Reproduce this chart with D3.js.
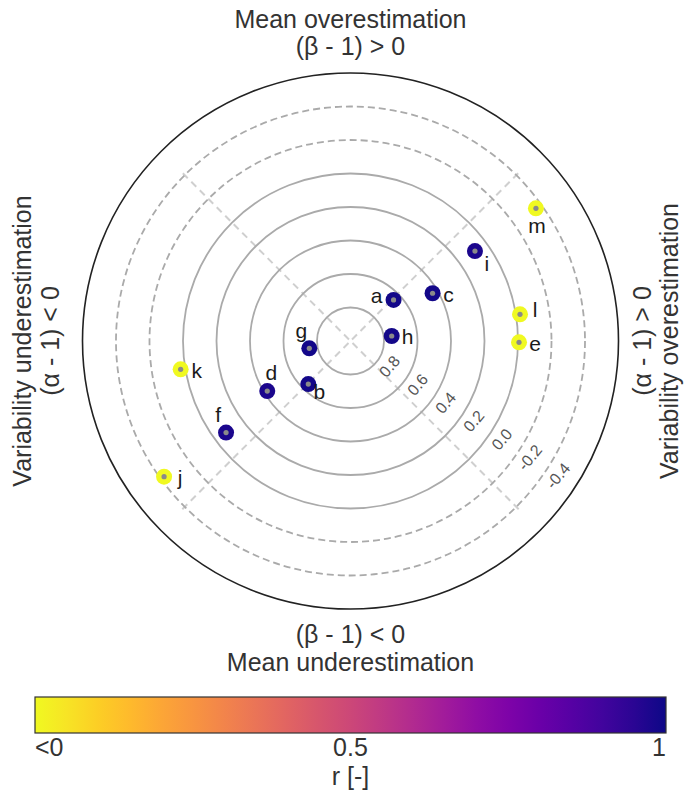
<!DOCTYPE html>
<html>
<head>
<meta charset="utf-8">
<script src="https://cdn.jsdelivr.net/npm/d3@7"></script>
<style>
  html, body { margin: 0; padding: 0; background: #fff; }
  svg { display: block; font-family: "Liberation Sans", Arial, sans-serif; }
</style>
</head>
<body>
<svg id="chart" width="686" height="797"></svg>
<script>
// ---- data ----
const labels     = ["a", "b", "c", "d", "e", "f", "g", "h", "i", "j", "k", "l", "m"];
const alphaMinus1 = [0.257, -0.252, 0.490, -0.497, 1.006, -0.743, -0.246, 0.246, 0.743, -1.113, -1.014, 1.012, 1.107];
const betaMinus1  = [0.245, -0.257, 0.285, -0.299, -0.008, -0.547, -0.044, 0.030, 0.537, -0.810, -0.169, 0.159, 0.792];
const rValues     = [0.99, 0.99, 0.99, 0.98, -0.2, 0.98, 0.99, 0.99, 0.98, -0.3, -0.2, -0.2, -0.3];
const labelSide   = ["l", "br", "r", "t", "r", "tl", "tl", "r", "br2", "r", "r", "ru", "b"];
const solidRings  = [0.8, 0.6, 0.4, 0.2, 0.0];
const dashedRings = [-0.2, -0.4];
const ringLabels  = ["0.8", "0.6", "0.4", "0.2", "0.0", "-0.2", "-0.4"];
const cbTicks     = [0, 0.5, 1];
const cbTickLabels = ["<0", "0.5", "1"];

// ---- layout ----
const svg = d3.select("#chart");
const cx = 350.5, cy = 341, R = 268, maxDist = 1.6;
const x = d3.scaleLinear().domain([-maxDist, maxDist]).range([cx - R, cx + R]);
const y = d3.scaleLinear().domain([-maxDist, maxDist]).range([cy + R, cy - R]);
const rad = d3.scaleLinear().domain([0, maxDist]).range([0, R]);
const color = v => d3.interpolatePlasma(1 - Math.max(0, Math.min(1, v)));

const g = svg.append("g");

// diagonal dashed lines
const diagLen = rad(1.42);
[45, 135].forEach(a => {
  const t = a * Math.PI / 180;
  g.append("line")
    .attr("x1", cx - diagLen * Math.cos(t)).attr("y1", cy + diagLen * Math.sin(t))
    .attr("x2", cx + diagLen * Math.cos(t)).attr("y2", cy - diagLen * Math.sin(t))
    .attr("stroke", "#cfcfcf").attr("stroke-width", 2).attr("stroke-dasharray", "7,5");
});

// rings
g.selectAll("circle.solid").data(solidRings).join("circle")
  .attr("class", "solid")
  .attr("cx", cx).attr("cy", cy).attr("r", d => rad(1 - d))
  .attr("fill", "none").attr("stroke", "#aaaaaa").attr("stroke-width", 1.8);
g.selectAll("circle.dashed").data(dashedRings).join("circle")
  .attr("class", "dashed")
  .attr("cx", cx).attr("cy", cy).attr("r", d => rad(1 - d))
  .attr("fill", "none").attr("stroke", "#aaaaaa").attr("stroke-width", 1.8)
  .attr("stroke-dasharray", "7,4");

// outer circle
g.append("circle").attr("cx", cx).attr("cy", cy).attr("r", rad(maxDist))
  .attr("fill", "none").attr("stroke", "#222").attr("stroke-width", 1.6);

// ring labels
const ringVals = solidRings.concat(dashedRings);
const labAng = -33 * Math.PI / 180;
g.selectAll("text.ringlab").data(ringVals).join("text")
  .attr("class", "ringlab")
  .attr("transform", (d) => {
    const rr = rad(1 - d) + 13;
    const px = cx + rr * Math.cos(labAng), py = cy - rr * Math.sin(labAng);
    return `translate(${px},${py}) rotate(-50)`;
  })
  .attr("text-anchor", "middle").attr("dominant-baseline", "central")
  .attr("font-size", 16).attr("fill", "#555")
  .text((d, i) => ringLabels[i]);

// points
const pts = labels.map((l, i) => ({ l, a: alphaMinus1[i], b: betaMinus1[i], r: rValues[i], side: labelSide[i] }));
const node = g.selectAll("g.pt").data(pts).join("g").attr("class", "pt")
  .attr("transform", d => `translate(${x(d.a)},${y(d.b)})`);
node.append("circle").attr("r", 8).attr("fill", d => color(d.r));
node.append("circle").attr("r", 2.6).attr("fill", "#8a8a8a");
const off = { r: [16, 1], l: [-17, -4], tl: [-8, -18], br: [11, 7], br2: [12, 12], t: [4, -19], b: [1, 17], ru: [15, -5] };
node.append("text")
  .attr("x", d => off[d.side][0]).attr("y", d => off[d.side][1])
  .attr("text-anchor", "middle").attr("dominant-baseline", "central")
  .attr("font-size", 21).attr("fill", "#1a1a1a")
  .text(d => d.l);

// axis titles
const tf = 25, tcol = "#333";
svg.append("text").attr("x", cx).attr("y", 28).attr("text-anchor", "middle")
  .attr("font-size", tf).attr("fill", tcol).text("Mean overestimation");
svg.append("text").attr("x", cx).attr("y", 55).attr("text-anchor", "middle")
  .attr("font-size", tf).attr("fill", tcol).text("(\u03B2 - 1) > 0");
svg.append("text").attr("x", cx).attr("y", 643).attr("text-anchor", "middle")
  .attr("font-size", tf).attr("fill", tcol).text("(\u03B2 - 1) < 0");
svg.append("text").attr("x", cx).attr("y", 671).attr("text-anchor", "middle")
  .attr("font-size", tf).attr("fill", tcol).text("Mean underestimation");
svg.append("text").attr("transform", `translate(31,${cy}) rotate(-90)`).attr("text-anchor", "middle")
  .attr("font-size", tf).attr("fill", tcol).text("Variability underestimation");
svg.append("text").attr("transform", `translate(59,${cy}) rotate(-90)`).attr("text-anchor", "middle")
  .attr("font-size", tf).attr("fill", tcol).text("(\u03B1 - 1) < 0");
svg.append("text").attr("transform", `translate(651,${cy}) rotate(-90)`).attr("text-anchor", "middle")
  .attr("font-size", tf).attr("fill", tcol).text("(\u03B1 - 1) > 0");
svg.append("text").attr("transform", `translate(678,${cy}) rotate(-90)`).attr("text-anchor", "middle")
  .attr("font-size", tf).attr("fill", tcol).text("Variability overestimation");

// colorbar
const cbX0 = 35, cbX1 = 666, cbY = 697, cbH = 36;
const cbScale = d3.scaleLinear().domain([0, 1]).range([cbX0, cbX1]);
const defs = svg.append("defs");
const grad = defs.append("linearGradient").attr("id", "plasmaGrad")
  .attr("x1", "0%").attr("x2", "100%").attr("y1", "0%").attr("y2", "0%");
d3.range(0, 1.0001, 0.05).forEach(t => {
  grad.append("stop").attr("offset", `${t * 100}%`).attr("stop-color", color(t));
});
svg.append("rect").attr("x", cbX0).attr("y", cbY).attr("width", cbX1 - cbX0).attr("height", cbH)
  .attr("fill", "url(#plasmaGrad)").attr("stroke", "#333").attr("stroke-width", 1.2);
svg.selectAll("text.cbt").data(cbTicks).join("text").attr("class", "cbt")
  .attr("x", d => cbScale(d)).attr("y", 756)
  .attr("text-anchor", (d, i) => i === 0 ? "start" : (i === cbTicks.length - 1 ? "end" : "middle"))
  .attr("font-size", 25).attr("fill", tcol)
  .text((d, i) => cbTickLabels[i]);
svg.append("text").attr("x", cbScale(0.5)).attr("y", 785).attr("text-anchor", "middle")
  .attr("font-size", 25).attr("fill", tcol).text("r [-]");
</script>
</body>
</html>
